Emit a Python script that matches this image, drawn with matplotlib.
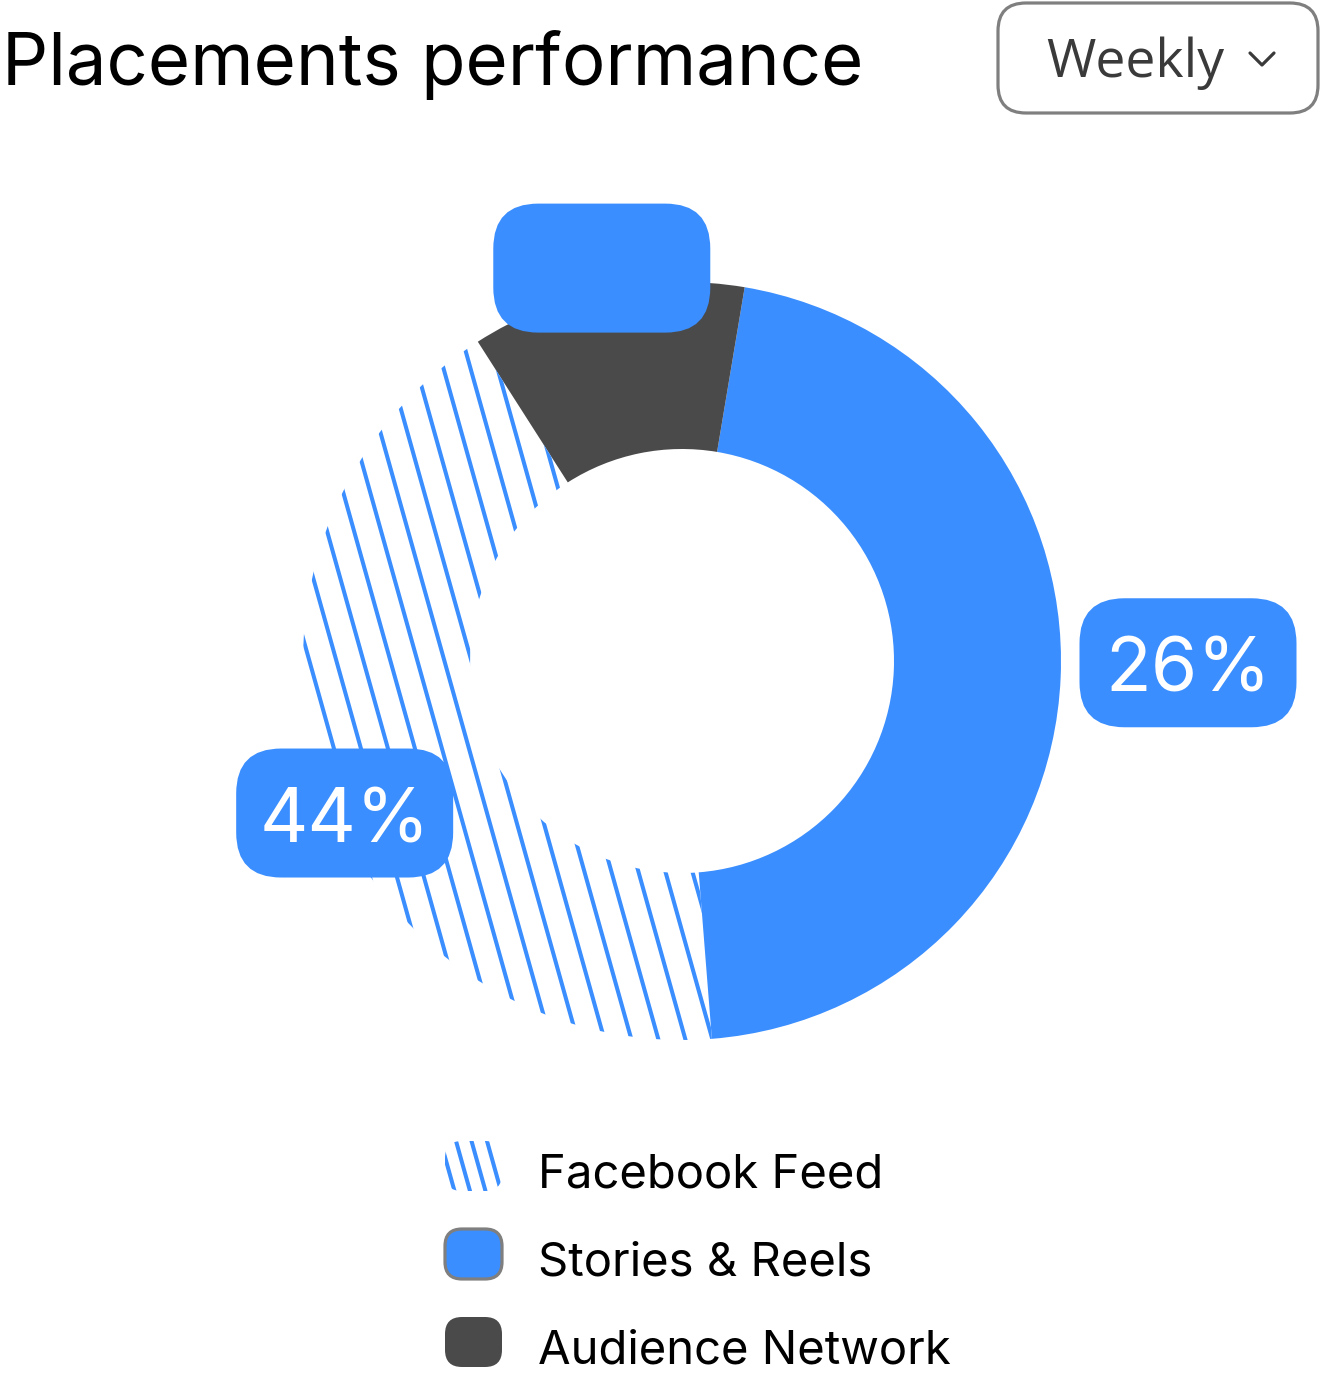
import matplotlib
matplotlib.use("Agg")
import matplotlib.pyplot as plt
from matplotlib.patches import FancyBboxPatch
from matplotlib.collections import LineCollection
from matplotlib.lines import Line2D
import numpy as np

# ---------------- data ----------------
categories = ["Facebook Feed", "Stories & Reels", "Audience Network"]
shares = [42.2, 46.1, 11.7]          # slice sizes read from the ring
badge_text = ["44%", "26%", ""]       # texts printed in the badges
title = "Placements performance"
period = "Weekly"

# ---------------- style ----------------
W, H = 1320, 1376
BLUE = "#3a8eff"
DARK = "#4a4a4a"
GRAY = "#7f7f7f"
INK = "#3a3a3a"
badge_angle_offset = [5.7, 2.3, 0.0]
badge_radius = [370, 506, 401]

fig = plt.figure(figsize=(W / 100, H / 100), dpi=100)
ax = fig.add_axes([0, 0, 1, 1])


def py(y):
    return H - y


cx, cy = 682, py(661)
R_out, R_in = 379, 212

wedges, _ = ax.pie(shares, colors=["white", BLUE, DARK], startangle=122.6,
                   counterclock=True, center=(cx, cy), radius=R_out,
                   wedgeprops=dict(width=R_out - R_in, linewidth=0))
ax.set_xlim(0, W)
ax.set_ylim(0, H)
ax.set_aspect("equal")
ax.axis("off")


def hatch(clip_patch, xmin, xmax, ytop, ybot, spacing, slope, x_ref, y_ref, lw):
    segs = []
    span = slope * (ybot - ytop)
    k0 = int(np.floor((xmin - span - x_ref) / spacing)) - 2
    k1 = int(np.ceil((xmax + span - x_ref) / spacing)) + 2
    for k in range(k0, k1):
        xa = x_ref + k * spacing + slope * (ytop - y_ref)
        xb = x_ref + k * spacing + slope * (ybot - y_ref)
        segs.append([(xa, py(ytop)), (xb, py(ybot))])
    lc = LineCollection(segs, colors=BLUE, linewidths=lw, zorder=3,
                        capstyle="butt")
    ax.add_collection(lc)
    lc.set_clip_path(clip_patch)


# hatched Facebook Feed slice
hatch(wedges[0], 280, 760, 270, 1060, 27.0, 0.28, 543, 1013, 2.9)

# badges
for w, txt, off, r in zip(wedges, badge_text, badge_angle_offset, badge_radius):
    mid = np.deg2rad((w.theta1 + w.theta2) / 2 + off)
    bx = cx + r * np.cos(mid)
    by = cy + r * np.sin(mid)
    bw, bh = 217, 129
    ax.add_patch(FancyBboxPatch((bx - bw / 2, by - bh / 2), bw, bh,
                                boxstyle="round,pad=0,rounding_size=45",
                                fc=BLUE, ec="none", zorder=5))
    ax.text(bx, by - 29, txt, color="white", fontsize=54, family="Inter",
            ha="center", va="baseline", zorder=6)

# title
ax.text(2, py(85), title, fontsize=52.2, family="Inter",
        color="black", ha="left", va="baseline")

# period selector
ax.add_patch(FancyBboxPatch((998, py(113)), 320, 110,
                            boxstyle="round,pad=0,rounding_size=28",
                            fc="white", ec=GRAY, lw=2.3))
ax.text(1046, py(77), period, fontsize=38.5, family="Open Sans", color=INK,
        ha="left", va="baseline")
ax.add_line(Line2D([1250, 1262, 1274], [py(53), py(65), py(53)],
                   color=INK, lw=2.3, solid_capstyle="round",
                   solid_joinstyle="round"))

# legend
legend_fc = ["none", BLUE, DARK]
legend_ec = ["none", GRAY, "none"]
for i, name in enumerate(categories):
    yc = 1166 + 88 * i
    box = FancyBboxPatch((445, py(yc + 25)), 57, 50,
                         boxstyle="round,pad=0,rounding_size=17",
                         fc=legend_fc[i], ec=legend_ec[i], lw=2.3, zorder=3)
    ax.add_patch(box)
    if i == 0:
        hatch(box, 430, 520, yc - 30, yc + 30, 15.5, 0.28, 463, yc, 2.9)
    ax.text(538, py(yc + 22), name, fontsize=34, family="Inter",
            color="black", ha="left", va="baseline")

fig.savefig("out.png", dpi=100, facecolor="white")
